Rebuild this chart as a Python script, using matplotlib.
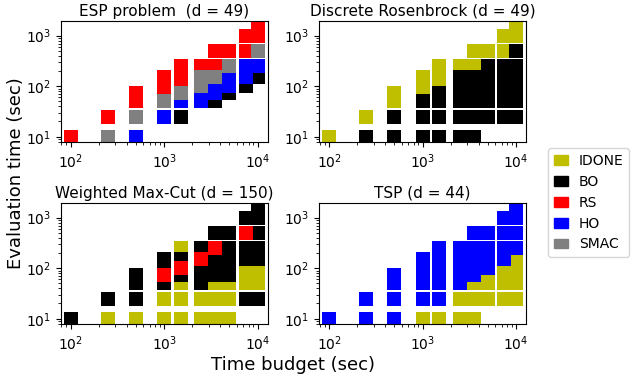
import matplotlib
matplotlib.use("Agg")
import matplotlib.pyplot as plt
import matplotlib.patches as mpatches

# winning algorithm per (time budget, evaluation time)
algos = ["IDONE", "BO", "RS", "HO", "SMAC"]
colors = ["y", "k", "r", "b", "grey"]

titles = ["ESP problem  (d = 49)", "Discrete Rosenbrock (d = 49)",
          "Weighted Max-Cut (d = 150)", "TSP (d = 44)"]

esp_idone = []
esp_bo = [(1500, 25), (3500, 50), (5000, 75), (7500, 100), (10000, 150)]
esp_rs = [(100, 10), (250, 25), (500, 50), (500, 75), (1000, 75), (1000, 100),
          (1000, 150), (1500, 100), (1500, 150), (1500, 250), (2500, 250),
          (3500, 250), (3500, 500), (5000, 500), (7500, 500), (7500, 1000),
          (10000, 1000), (10000, 1500)]
esp_ho = [(500, 10), (1000, 25), (1500, 50), (2500, 50), (2500, 75), (3500, 75),
          (3500, 100), (5000, 100), (5000, 150), (7500, 150), (7500, 250),
          (10000, 250)]
esp_smac = [(250, 10), (500, 25), (1000, 50), (1500, 75), (2500, 100),
            (2500, 150), (3500, 150), (5000, 250), (10000, 500)]

ros_idone = [(100, 10), (250, 25), (500, 50), (500, 75), (1000, 75), (1000, 100),
             (1000, 150), (1500, 100), (1500, 150), (1500, 250), (2500, 250),
             (3500, 250), (3500, 500), (5000, 500), (7500, 500), (7500, 1000),
             (10000, 1000), (10000, 1500)]
ros_bo = [(250, 10), (500, 10), (500, 25), (1000, 10), (1000, 25), (1000, 50),
          (1500, 10), (1500, 25), (1500, 50), (1500, 75),
          (2500, 10), (2500, 25), (2500, 50), (2500, 75), (2500, 100), (2500, 150),
          (3500, 10), (3500, 25), (3500, 50), (3500, 75), (3500, 100), (3500, 150),
          (5000, 25), (5000, 50), (5000, 75), (5000, 100), (5000, 150), (5000, 250),
          (7500, 25), (7500, 50), (7500, 75), (7500, 100), (7500, 150), (7500, 250),
          (10000, 25), (10000, 50), (10000, 75), (10000, 100), (10000, 150),
          (10000, 250), (10000, 500)]

mc_idone = [(250, 10), (500, 10), (1000, 10), (1000, 25), (1500, 10), (1500, 25),
            (1500, 50), (1500, 250), (2500, 10), (2500, 25), (3500, 10), (3500, 25),
            (3500, 50), (5000, 10), (5000, 25), (5000, 50), (7500, 50), (7500, 75),
            (7500, 100), (10000, 50), (10000, 75), (10000, 100)]
mc_bo = [(100, 10), (250, 25), (500, 25), (500, 50), (500, 75), (1000, 50),
         (1000, 100), (1000, 150), (1500, 75), (1500, 150), (2500, 50), (2500, 75),
         (2500, 100), (2500, 250), (3500, 75), (3500, 100), (3500, 150), (3500, 500),
         (5000, 75), (5000, 100), (5000, 150), (5000, 250), (5000, 500),
         (7500, 25), (7500, 150), (7500, 250), (7500, 1000),
         (10000, 25), (10000, 150), (10000, 250), (10000, 500), (10000, 1000),
         (10000, 1500)]
mc_rs = [(1000, 75), (1500, 100), (2500, 150), (3500, 250), (7500, 500)]

tsp_idone = [(1000, 10), (1500, 10), (2500, 10), (2500, 25), (3500, 10), (3500, 25),
             (3500, 50), (5000, 25), (5000, 50), (5000, 75), (7500, 25), (7500, 50),
             (7500, 75), (7500, 100), (10000, 25), (10000, 50), (10000, 75),
             (10000, 100), (10000, 150)]
tsp_ho = [(100, 10), (250, 10), (250, 25), (500, 10), (500, 25), (500, 50), (500, 75),
          (1000, 25), (1000, 50), (1000, 75), (1000, 100), (1000, 150),
          (1500, 25), (1500, 50), (1500, 75), (1500, 100), (1500, 150), (1500, 250),
          (2500, 50), (2500, 75), (2500, 100), (2500, 150), (2500, 250),
          (3500, 75), (3500, 100), (3500, 150), (3500, 250), (3500, 500),
          (5000, 100), (5000, 150), (5000, 250), (5000, 500),
          (7500, 150), (7500, 250), (7500, 500), (7500, 1000),
          (10000, 250), (10000, 500), (10000, 1000), (10000, 1500)]

panels = [
    [esp_idone, esp_bo, esp_rs, esp_ho, esp_smac],
    [ros_idone, ros_bo, [], [], []],
    [mc_idone, mc_bo, mc_rs, [], []],
    [tsp_idone, [], [], tsp_ho, []],
]

fig, axes = plt.subplots(2, 2, figsize=(6.4, 3.78), dpi=100)
plt.subplots_adjust(left=0.0947, right=0.822, top=0.9437, bottom=0.1423,
                    wspace=0.249, hspace=0.505)

for ax, title, groups in zip(axes.flat, titles, panels):
    for pts, c in zip(groups, colors):
        if len(pts) == 0:
            continue
        xs = [p[0] for p in pts]
        ys = [p[1] for p in pts]
        ax.scatter(xs, ys, s=88, marker="s", c=c, linewidths=0)
    ax.set_xscale("log")
    ax.set_yscale("log")
    ax.set_title(title, fontsize=11, pad=4)

# shared data limits so every panel gets the same log margins
for ax in axes.flat:
    ax.set_xlim(10 ** 1.894, 10 ** 4.106)
    ax.set_ylim(10 ** 0.891, 10 ** 3.285)

handles = [mpatches.Patch(color=c, label=a) for a, c in zip(algos, colors)]
fig.legend(handles=handles, loc="center left", bbox_to_anchor=(0.846, 0.464),
           handlelength=1.0, fontsize=10)

fig.text(0.458, 0.035, "Time budget (sec)", ha="center", va="center", fontsize=13)
fig.text(0.025, 0.543, "Evaluation time (sec)", ha="center", va="center",
         rotation=90, fontsize=13)

plt.savefig("out.png", dpi=100)
